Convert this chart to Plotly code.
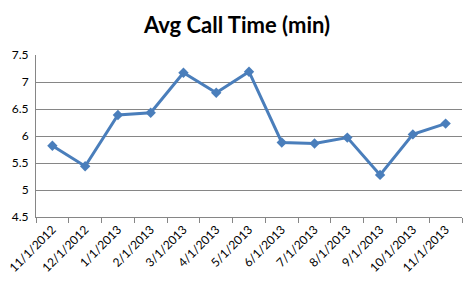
import plotly.graph_objects as go

months = ["11/1/2012", "12/1/2012", "1/1/2013", "2/1/2013", "3/1/2013", "4/1/2013",
          "5/1/2013", "6/1/2013", "7/1/2013", "8/1/2013", "9/1/2013", "10/1/2013", "11/1/2013"]
avg_call_time = [5.82, 5.44, 6.39, 6.43, 7.17, 6.80, 7.19, 5.88, 5.86, 5.97, 5.28, 6.03, 6.23]

fig = go.Figure()
fig.add_trace(go.Scatter(
    x=months, y=avg_call_time, mode="lines+markers",
    line=dict(color="#4A7EBB", width=3),
    marker=dict(symbol="diamond", size=8, color="#4A7EBB"),
    showlegend=False,
))

fig.update_layout(
    width=474, height=282,
    margin=dict(l=36, r=12, t=55, b=65),
    paper_bgcolor="white", plot_bgcolor="white",
    title=dict(text="<b>Avg Call Time (min)</b>", x=0.5, xanchor="center",
               y=0.91, yanchor="middle",
               font=dict(family="Lato", size=22, color="black")),
    font=dict(family="Lato", size=12, color="black"),
)
fig.update_xaxes(
    type="category", range=[-0.5, 12.5], automargin=False,
    showline=True, linecolor="#868686", linewidth=1,
    ticks="outside", tickson="boundaries", ticklen=5, tickcolor="#868686",
    showgrid=False, tickangle=-45, tickfont=dict(size=12),
)
fig.update_yaxes(
    range=[4.5, 7.5], dtick=0.5, tick0=4.5, automargin=False,
    showline=True, linecolor="#868686", linewidth=1,
    showgrid=True, gridcolor="#868686", gridwidth=1,
    zeroline=False, ticks="", tickfont=dict(size=12), ticklabelstandoff=4,
)

fig.write_html("out.html")
